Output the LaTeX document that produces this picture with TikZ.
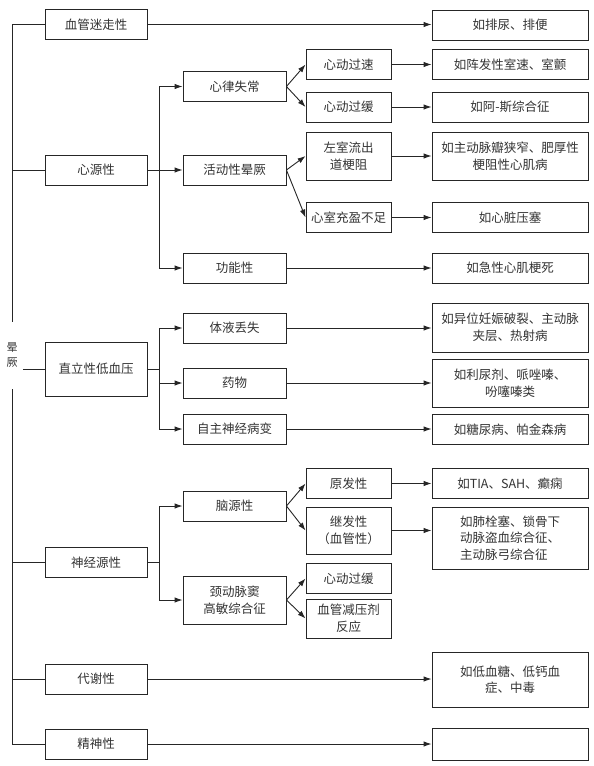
\documentclass[tikz,border=0pt]{standalone}
\usepackage{fontspec}
\setmainfont{Noto Sans CJK SC}
\usetikzlibrary{arrows.meta}
\tikzstyle{box} = [draw, rectangle, inner sep=2pt, align=center, minimum height=30pt]
\tikzstyle{catbox} = [box, minimum width=102pt]
\tikzstyle{subbox} = [box, minimum width=103pt]
\tikzstyle{leafbox} = [box, minimum width=85pt]
\tikzstyle{resbox} = [box, minimum width=156pt]
\tikzstyle{arr} = [-{Latex[length=8pt,width=5.5pt]}]

\begin{document}
\begin{tikzpicture}[x=1pt,y=-1pt,line width=0.9pt,color=black!85,text=black!80,
  font=\fontsize{12.5}{16.5}\selectfont]
\useasboundingbox (0,0) rectangle (594,766);
% first column
\node[inner xsep=5pt, inner ysep=0pt, minimum height=67pt, align=center,
  font=\fontsize{11}{15}\selectfont] (root) at (12,355.5) {晕\\厥};
\node[catbox] (vaso) at (96,24.5) {血管迷走性};
\node[catbox] (cardio) at (96,170) {心源性};
\node[catbox, minimum height=54pt] (ortho) at (96,369) {直立性低血压};
\node[catbox] (neuro) at (96,562.5) {神经源性};
\node[catbox] (meta) at (96,679) {代谢性};
\node[catbox] (psych) at (96,744) {精神性};
% second column
\node[subbox] (arrh) at (234.5,86.5) {心律失常};
\node[subbox] (exer) at (234.5,170) {活动性晕厥};
\node[subbox] (func) at (234.5,268) {功能性};
\node[subbox] (fluid) at (234.5,328) {体液丢失};
\node[subbox] (drug) at (234.5,383) {药物};
\node[subbox] (auto) at (234.5,429) {自主神经病变};
\node[subbox] (brain) at (234.5,506) {脑源性};
\node[subbox, minimum height=48pt] (sinus) at (234.5,600) {颈动脉窦\\高敏综合征};
% third column
\node[leafbox] (tachy) at (348.5,64.5) {心动过速};
\node[leafbox] (brady) at (348.5,107) {心动过缓};
\node[leafbox, minimum height=48pt] (lvot) at (348.5,156) {左室流出\\道梗阻};
\node[leafbox] (fill) at (348.5,217.5) {心室充盈不足};
\node[leafbox] (prim) at (348.5,483.5) {原发性};
\node[leafbox, minimum height=47pt] (sec) at (348.5,530.5) {继发性\\（血管性）};
\node[leafbox] (brady2) at (348.5,578.5) {心动过缓};
\node[leafbox, minimum height=39pt] (vasod) at (348.5,618.5) {血管减压剂\\反应};
% examples
\node[resbox] (ex1) at (510,25) {如排尿、排便};
\node[resbox] (ex2) at (510,64.5) {如阵发性室速、室颤};
\node[resbox] (ex3) at (510,107) {如阿-斯综合征};
\node[resbox, minimum height=48pt] (ex4) at (510,156) {如主动脉瓣狭窄、肥厚性\\梗阻性心肌病};
\node[resbox] (ex5) at (510,217.5) {如心脏压塞};
\node[resbox] (ex6) at (510,268) {如急性心肌梗死};
\node[resbox, minimum height=49pt] (ex7) at (510,327.5) {如异位妊娠破裂、主动脉\\夹层、热射病};
\node[resbox, minimum height=48pt] (ex8) at (510,383) {如利尿剂、哌唑嗪、\\吩噻嗪类};
\node[resbox] (ex9) at (510,429.5) {如糖尿病、帕金森病};
\node[resbox] (ex10) at (510,483.5) {如TIA、SAH、癫痫};
\node[resbox, minimum height=62pt, align=left] (ex11) at (510,538) {如肺栓塞、锁骨下\\动脉盗血综合征、\\主动脉弓综合征};
\node[resbox, minimum height=55pt] (ex12) at (510,679.5) {如低血糖、低钙血\\症、中毒};
\node[resbox, minimum height=32pt] (ex13) at (510,744) {};
% trunk
\draw (vaso.west) -| (root.north);
\draw (psych.west) -| (root.south);
\draw (cardio.west) -- (cardio.west -| root.north);
\draw (neuro.west) -- (neuro.west -| root.south);
\draw (meta.west) -- (meta.west -| root.south);
\draw (root.east |- ortho.west) -- (ortho.west);
% branches
\draw (cardio.east) -- ++(12,0) coordinate (jc);
\draw[arr] (jc) |- (arrh.west);
\draw[arr] (jc) -- (exer.west);
\draw[arr] (jc) |- (func.west);
\draw (ortho.east) -- ++(12,0) coordinate (jo);
\draw[arr] (jo) |- (fluid.west);
\draw[arr] (jo) |- (drug.west);
\draw[arr] (jo) |- (auto.west);
\draw (neuro.east) -- ++(12,0) coordinate (jn);
\draw[arr] (jn) |- (brain.west);
\draw[arr] (jn) |- (sinus.west);
\draw[arr] (arrh.east) -- (tachy.west);
\draw[arr] (arrh.east) -- (brady.west);
\draw[arr] (exer.east) -- (lvot.west);
\draw[arr] (exer.east) -- (fill.west);
\draw[arr] (brain.east) -- (prim.west);
\draw[arr] (brain.east) -- (sec.west);
\draw[arr] (sinus.east) -- (brady2.west);
\draw[arr] (sinus.east) -- (vasod.west);
% to examples
\draw[arr] (vaso.east) -- (vaso.east -| ex1.west);
\draw[arr] (tachy.east) -- (ex2.west);
\draw[arr] (brady.east) -- (ex3.west);
\draw[arr] (lvot.east) -- (ex4.west);
\draw[arr] (fill.east) -- (ex5.west);
\draw[arr] (func.east) -- (ex6.west);
\draw[arr] (fluid.east) -- (fluid.east -| ex7.west);
\draw[arr] (drug.east) -- (ex8.west);
\draw[arr] (auto.east) -- (auto.east -| ex9.west);
\draw[arr] (prim.east) -- (ex10.west);
\draw[arr] (sec.east) -- (sec.east -| ex11.west);
\draw[arr] (meta.east) -- (meta.east -| ex12.west);
\draw[arr] (psych.east) -- (ex13.west);
\end{tikzpicture}
\end{document}
